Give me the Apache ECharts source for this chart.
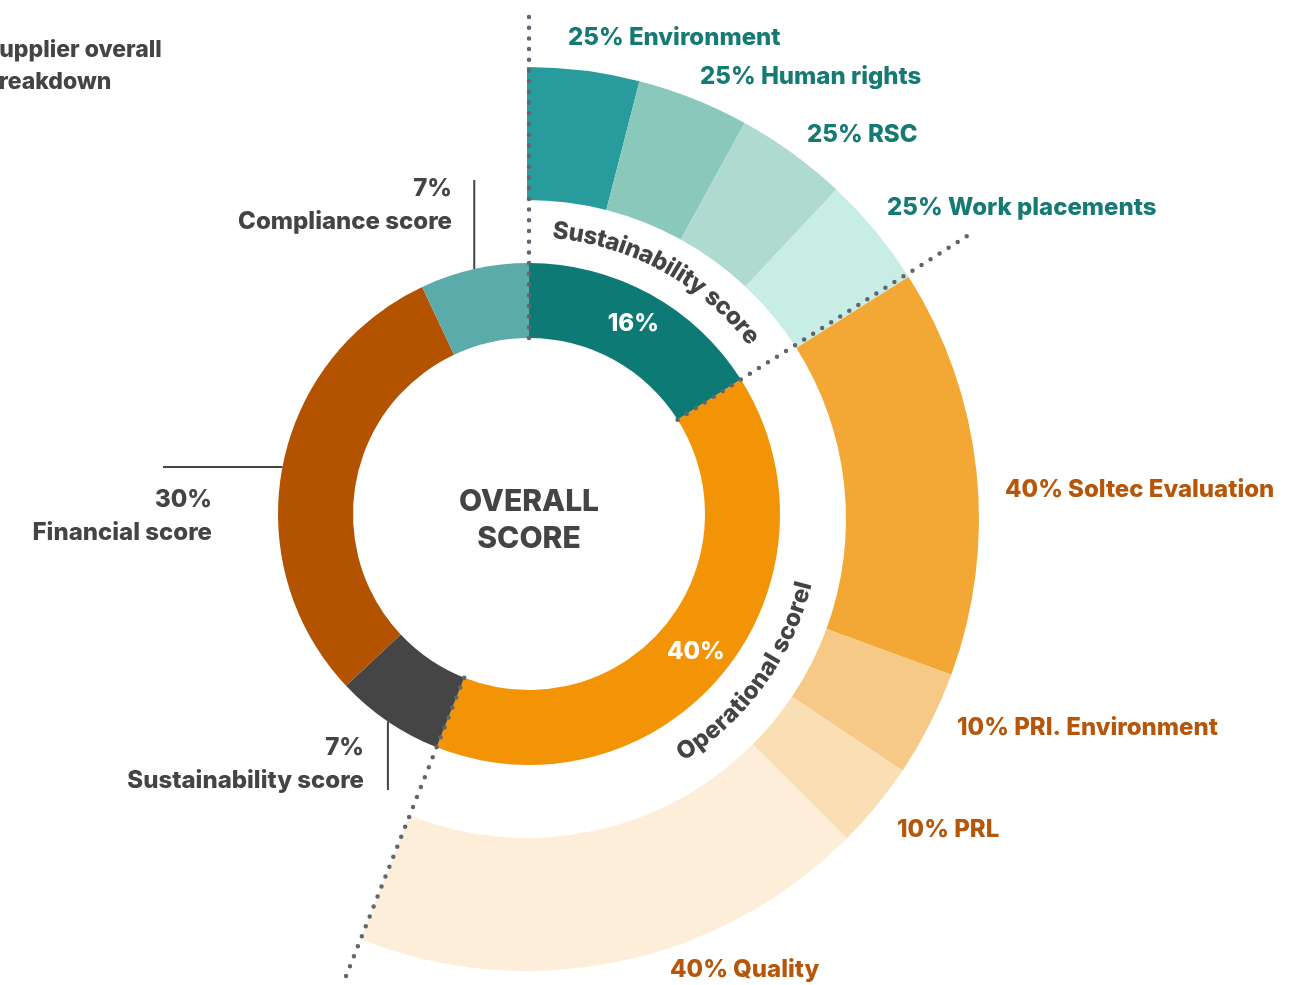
<!DOCTYPE html>
<html>
<head>
<meta charset="utf-8">
<title>Supplier overall breakdown</title>
<script src="https://cdn.jsdelivr.net/npm/echarts@6/dist/echarts.min.js"></script>
<style>
  html, body { margin: 0; padding: 0; background: #fff; }
  #chart { width: 1306px; height: 985px; }
</style>
</head>
<body>
<div id="chart"></div>
<script>
// inner ring, share of the overall score (%)
var innerNames = ['Sustainability score', 'Operational score', 'Sustainability score', 'Financial score', 'Compliance score'];
var innerValues = [16, 40, 7, 30, 7];
var innerInside = [true, true, false, false, false];   // which ones carry the % inside the ring

// outer ring, breakdown of the sustainability and operational blocks
var outerNames = ['Environment', 'Human rights', 'RSC', 'Work placements', 'Soltec Evaluation', 'PRI. Environment', 'PRL', 'Quality'];
var outerLabelPct = [25, 25, 25, 25, 40, 10, 10, 40];
// share of the whole circle as the slices are drawn in the picture
var outerDrawn = [4, 4, 4, 4, 14.6, 3.8, 3.1, 18.5];

var innerColors = ['#0e7a76', '#f29406', '#454545', '#b35300', '#5cabab'];
var outerColors = ['#289c9c', '#8ac8bc', '#afdad0', '#c8ede5', '#f3a835', '#f7c986', '#f9dfb3', '#fdeed9'];
var outerTextColors = ['#157a74', '#157a74', '#157a74', '#157a74', '#b5560a', '#b5560a', '#b5560a', '#b5560a'];

var FONT = 'Inter, Lato, sans-serif';
var W = '800 ';
var C_IN = [529, 514];
var C_OUT = [527, 519];

function pt(c, r, deg) {
    var a = deg * Math.PI / 180;
    return [c[0] + r * Math.sin(a), c[1] - r * Math.cos(a)];
}

// start angles (deg, clockwise from 12 o'clock) of the inner slices
var innerTotal = innerValues.reduce(function (s, v) { return s + v; }, 0);
var innerStart = [];
var acc = 0;
innerValues.forEach(function (v) { innerStart.push(acc / innerTotal * 360); acc += v; });

var graphics = [];

// title, partly cut off on the left like the original
graphics.push({
    type: 'text', x: -16, y: 34, z: 20,
    style: { text: 'Supplier overall\nbreakdown', font: W + '23px ' + FONT, fill: '#444', lineHeight: 32, verticalAlign: 'top' }
});

// centre text
graphics.push({
    type: 'text', x: C_IN[0], y: 520, z: 20,
    style: { text: 'OVERALL\nSCORE', font: W + '30px ' + FONT, fill: '#444', align: 'center', verticalAlign: 'middle', lineHeight: 37 }
});

// dotted dividers between the sustainability and operational blocks
var dividerIdx = [0, 1, 2];
var dividerLen = [503, 528, 503];
dividerIdx.forEach(function (idx, k) {
    var a = innerStart[idx];
    var p1 = pt(C_IN, 176, a), p2 = pt(C_IN, dividerLen[k], a);
    graphics.push({
        type: 'line', z: 30,
        shape: { x1: p1[0], y1: p1[1], x2: p2[0], y2: p2[1] },
        style: { stroke: '#5e666f', lineWidth: 4.5, lineDash: [0, 10.7], lineCap: 'round' }
    });
});

// leader lines + labels for the small inner slices
var sideLabels = [
    { idx: 4, dir: 'up', to: 180, tx: 452, ty: 189 },
    { idx: 3, dir: 'left', to: 163, tx: 212, ty: 500 },
    { idx: 2, dir: 'down', to: 790, tx: 364, ty: 748 }
];
sideLabels.forEach(function (s) {
    var mid = innerStart[s.idx] + innerValues[s.idx] / innerTotal * 180;
    var p = pt(C_IN, 251, mid);
    var q = s.dir === 'left' ? [s.to, p[1]] : [p[0], s.to];
    graphics.push({
        type: 'line', z: 20,
        shape: { x1: p[0], y1: p[1], x2: q[0], y2: q[1] },
        style: { stroke: '#444', lineWidth: 2 }
    });
    graphics.push({
        type: 'text', x: s.tx, y: s.ty, z: 20,
        style: { text: innerValues[s.idx] + '%', font: W + '24px ' + FONT, fill: '#444', align: 'right', verticalAlign: 'middle' }
    });
    graphics.push({
        type: 'text', x: s.tx, y: s.ty + 33, z: 20,
        style: { text: innerNames[s.idx], font: W + '24px ' + FONT, fill: '#444', align: 'right', verticalAlign: 'middle' }
    });
});

// outer labels
var outerLabelPos = [[568, 38], [700, 77], [807, 135], [887, 208], [1005, 490], [957, 728], [897, 830], [670, 970]];
outerNames.forEach(function (n, i) {
    graphics.push({
        type: 'text', x: outerLabelPos[i][0], y: outerLabelPos[i][1], z: 20,
        style: { text: outerLabelPct[i] + '% ' + n, font: W + '24px ' + FONT, fill: outerTextColors[i], align: 'left', verticalAlign: 'middle' }
    });
});

// text bent along the white gap between the rings
var measureCtx = document.createElement('canvas').getContext('2d');
function arcText(str, r, centerDeg, bottom, font) {
    measureCtx.font = font;
    var chars = str.split('');
    var widths = chars.map(function (ch) { return measureCtx.measureText(ch).width; });
    var total = widths.reduce(function (s, w) { return s + w; }, 0);
    var span = total / r * 180 / Math.PI;
    var start = bottom ? centerDeg + span / 2 : centerDeg - span / 2;
    var run = 0;
    chars.forEach(function (ch, i) {
        var d = (run + widths[i] / 2) / r * 180 / Math.PI;
        var a = bottom ? start - d : start + d;
        var p = pt(C_IN, r, a);
        var rad = a * Math.PI / 180;
        graphics.push({
            type: 'text', x: p[0], y: p[1], z: 25,
            rotation: bottom ? Math.PI - rad : -rad,
            style: { text: ch, font: font, fill: '#444', align: 'center', verticalAlign: 'middle' }
        });
        run += widths[i];
    });
}
arcText('Sustainability score', 284, 28.7, false, W + '24px ' + FONT);
arcText('Operational scorel', 284, 126, true, W + '24px ' + FONT);

var innerData = innerNames.map(function (n, i) {
    return {
        name: n, value: innerValues[i],
        itemStyle: { color: innerColors[i] },
        label: { show: innerInside[i] }
    };
});

var outerSum = outerDrawn.reduce(function (s, v) { return s + v; }, 0);
var outerData = outerNames.map(function (n, i) {
    return { name: n, value: outerDrawn[i], itemStyle: { color: outerColors[i] } };
});
outerData.push({ name: 'rest', value: 100 - outerSum, itemStyle: { color: 'transparent' } });

var chart = echarts.init(document.getElementById('chart'));
chart.setOption({
    backgroundColor: '#fff',
    animation: false,
    series: [
        {
            type: 'pie',
            center: C_IN,
            radius: [176, 251],
            startAngle: 90,
            clockwise: true,
            silent: true,
            avoidLabelOverlap: false,
            label: {
                position: 'inside',
                formatter: '{c}%',
                color: '#fff',
                fontSize: 24,
                fontWeight: 800,
                fontFamily: FONT
            },
            labelLine: { show: false },
            emphasis: { disabled: true },
            data: innerData
        },
        {
            type: 'pie',
            center: C_OUT,
            radius: [319, 452],
            startAngle: 90,
            clockwise: true,
            silent: true,
            label: { show: false },
            labelLine: { show: false },
            emphasis: { disabled: true },
            data: outerData
        }
    ],
    graphic: { elements: graphics }
});
</script>
</body>
</html>
